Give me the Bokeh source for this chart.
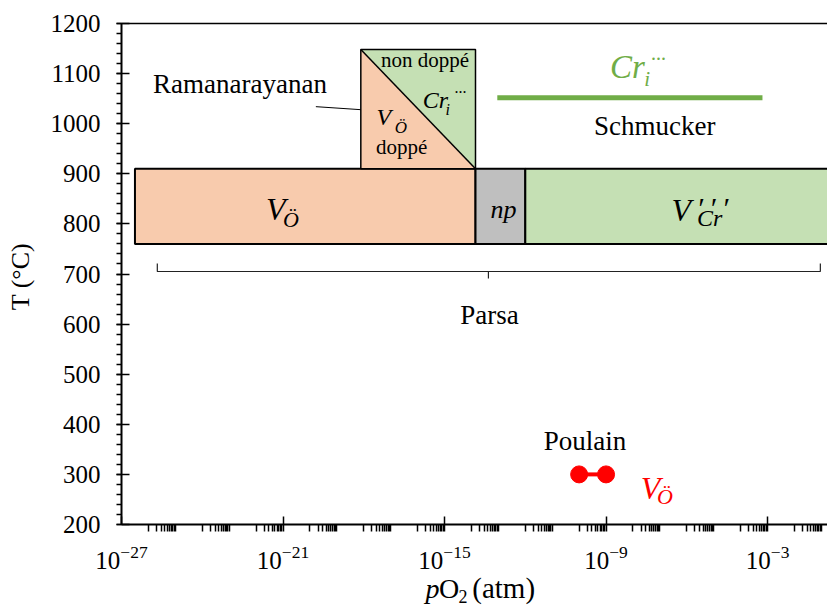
import math
from bokeh.plotting import figure
from bokeh.models import Label, FixedTicker, SingleIntervalTicker, LogTickFormatter
from bokeh.embed import file_html
from bokeh.resources import INLINE

# ---------------- data (pO2 in atm, T in °C) ----------------
# Parsa domains
parsa_names = ["V_O", "np", "V_Cr"]
parsa_left = [10**-26.5, 10**-13.85, 10**-12.0]
parsa_right = [10**-13.85, 10**-12.0, 10**-0.67]
parsa_Tmin = 760
parsa_Tmax = 910
# Parsa bracket (left end, middle, right end)
bracket_pO2 = [10**-25.67, 10**-13.37, 10**-1.04]
bracket_T = [721, 705, 691]

# Ramanarayanan square (doped / undoped)
rama_pO2 = [10**-18.11, 10**-13.85]
rama_T = [910, 1148]
rama_leader_pO2 = [10**-19.78, 10**-18.11]
rama_leader_T = [1034, 1028]

# Schmucker
schmucker_pO2 = [10**-13.04, 10**-3.19]
schmucker_T = [1052, 1052]

# Poulain
poulain_pO2 = [1e-10, 1e-9]
poulain_T = [300, 300]

# axes
x_ticks = [1e-27, 1e-21, 1e-15, 1e-9, 1e-3]
x_minor_decades = list(range(-26, 0, 2))
y_ticks_interval = 100
T_axis = (200, 1200)
pO2_axis_start = 1e-27

# ---------------- styles / layout ----------------
ORANGE = "#F8CBAD"
GREEN = "#C5E0B4"
GREY = "#BFBFBF"
LINE_GREEN = "#70AD47"
RED = "#FF0000"
SERIF = "Liberation Serif"

W, H = 827, 606
AXIS_X_PX = 121          # position of the T axis inside the canvas
AXIS_TOP_PX = 23         # position of T = 1200 inside the canvas
PX_PER_DECADE = 26.92
PX_PER_DEG = 0.501
lx0 = math.log10(pO2_axis_start)
x_start = 10 ** (lx0 - AXIS_X_PX / PX_PER_DECADE)
x_end = 10 ** (lx0 + (W - AXIS_X_PX) / PX_PER_DECADE)
y_end = T_axis[1] + AXIS_TOP_PX / PX_PER_DEG
y_start = T_axis[1] - (H - AXIS_TOP_PX) / PX_PER_DEG

p = figure(width=W, height=H, x_axis_type="log",
           x_range=(x_start, x_end), y_range=(y_start, y_end),
           output_backend="svg", toolbar_location=None,
           min_border_left=0, min_border_right=0, min_border_top=0, min_border_bottom=0)
p.grid.visible = False
p.outline_line_color = None
p.background_fill_color = "white"
p.border_fill_color = "white"

# x axis (drawn at T = 200)
xa = p.xaxis[0]
minor = [k * 10.0**n for n in x_minor_decades for k in range(1, 11)]
xa.ticker = FixedTicker(ticks=x_ticks, minor_ticks=minor)
xa.formatter = LogTickFormatter()
xa.fixed_location = T_axis[0]
xa.bounds = (pO2_axis_start, x_end)
xa.axis_line_width = 2
xa.axis_line_color = "black"
xa.major_tick_in = 8
xa.major_tick_out = 0
xa.minor_tick_in = 0
xa.minor_tick_out = 7
xa.major_tick_line_color = "black"
xa.minor_tick_line_color = "black"
xa.major_tick_line_width = 1.5
xa.minor_tick_line_width = 1.5
xa.major_label_text_font = SERIF
xa.major_label_text_font_size = "25px"
xa.major_label_text_color = "black"
xa.major_label_standoff = 14

# y axis (drawn at pO2 = 1e-27)
ya = p.yaxis[0]
ya.ticker = SingleIntervalTicker(interval=y_ticks_interval, num_minor_ticks=5)
ya.fixed_location = pO2_axis_start
ya.bounds = T_axis
ya.axis_line_width = 2
ya.axis_line_color = "black"
ya.major_tick_in = 8
ya.major_tick_out = 5
ya.minor_tick_in = 0
ya.minor_tick_out = 5
ya.major_tick_line_color = "black"
ya.minor_tick_line_color = "black"
ya.major_tick_line_width = 1.5
ya.minor_tick_line_width = 1.5
ya.major_label_text_font = SERIF
ya.major_label_text_font_size = "25px"
ya.major_label_text_color = "black"
ya.major_label_standoff = 16

# top border of the plot area
p.line([pO2_axis_start, x_end], [T_axis[1], T_axis[1]], line_color="black", line_width=1.5)

# Parsa domains
p.quad(left=parsa_left, right=parsa_right, bottom=parsa_Tmin, top=parsa_Tmax,
       fill_color=[ORANGE, GREY, GREEN], line_color="black", line_width=2)

# Ramanarayanan square split along diagonal
x0, x1 = rama_pO2
t0, t1 = rama_T
p.patches(xs=[[x0, x0, x1], [x0, x1, x1]], ys=[[t1, t0, t0], [t1, t1, t0]],
          fill_color=[ORANGE, GREEN], line_color=None)
p.line([x0, x1], [t1, t0], line_color="black", line_width=1.5)
p.quad(left=[x0], right=[x1], bottom=[t0], top=[t1], fill_color=None,
       line_color="black", line_width=1.5)
p.line(rama_leader_pO2, rama_leader_T, line_color="black", line_width=1)

# Schmucker line
p.line(schmucker_pO2, schmucker_T, line_color=LINE_GREEN, line_width=5, line_cap="butt")

# Parsa bracket
bl, bm, br = bracket_pO2
tt, tm, tb = bracket_T
p.line([bl, bl, br, br], [tt, tm, tm, tt], line_color="#222222", line_width=1.2)
p.line([bm, bm], [tm, tb], line_color="#222222", line_width=1.2)

# Poulain
p.line(poulain_pO2, poulain_T, line_color=RED, line_width=4)
p.scatter(poulain_pO2, poulain_T, size=17, fill_color=RED, line_color=RED)


def lab(x, y, text, size, style="normal", color="black", align="left",
        baseline="alphabetic", font=SERIF, angle=0.0):
    # lift alphabetic-baseline texts so the baseline sits on the anchor
    dy = round(0.27 * size) if baseline == "alphabetic" else 0
    p.add_layout(Label(x=x, y=y, text=text, text_font=font, text_font_size=f"{size}px",
                       text_font_style=style, text_color=color, text_align=align,
                       text_baseline=baseline, angle=angle, y_offset=dy))


# axis titles
lab(10**-30.75, 695, "T (°C)", 26, align="center", baseline="middle", angle=math.pi / 2)
lab(10**-15.71, 57, "p", 28, style="italic")
lab(10**-15.21, 57, "O", 28)
lab(10**-14.48, 47, "2", 18)
lab(10**-13.97, 57, "(atm)", 29)

# texts
lab(10**-25.83, 1065, "Ramanarayanan", 27)
lab(10**-15.72, 1115, "non doppé", 21, align="center")
lab(10**-15.81, 1035, "Cr", 24, style="italic")
lab(10**-14.96, 1020, "i", 16, style="italic")
lab(10**-14.63, 1064, "...", 16)
lab(10**-17.53, 1002, "V", 24, style="italic")
lab(10**-16.85, 982, "Ö", 17, style="italic")
lab(10**-16.59, 942, "doppé", 21, align="center")

lab(10**-21.63, 812, "V", 32, style="italic")
lab(10**-21.0, 797, "Ö", 22, style="italic")
lab(10**-12.81, 815, "np", 26, style="italic", align="center")
lab(10**-6.57, 809, "V", 32, style="italic")
lab(10**-5.62, 799, "Cr", 24, style="italic")
lab(10**-5.64, 817, "′\u2009′\u2009′", 30, style="italic")

lab(10**-8.85, 1095, "Cr", 33, style="italic", color=LINE_GREEN)
lab(10**-7.58, 1078, "i", 21, style="italic", color=LINE_GREEN)
lab(10**-7.33, 1132, "...", 20, color=LINE_GREEN)
lab(10**-7.19, 982, "Schmucker", 27, align="center")

lab(10**-13.33, 605, "Parsa", 27, align="center")
lab(10**-9.78, 352, "Poulain", 27, align="center")
lab(10**-7.71, 255, "V", 32, style="italic", color=RED)
lab(10**-7.11, 243, "Ö", 22, style="italic", color=RED)

open("out.html", "w").write(file_html(p, INLINE))
